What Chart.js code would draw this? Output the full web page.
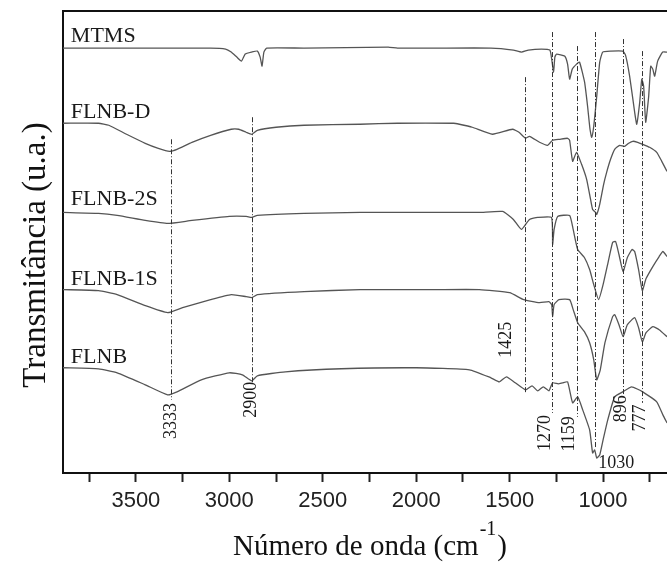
<!DOCTYPE html>
<html>
<head>
<meta charset="utf-8">
<script src="https://cdn.jsdelivr.net/npm/chart.js@4.4.1/dist/chart.umd.min.js"></script>
<style>
  html, body { margin: 0; padding: 0; background: #fff; }
  #wrap { width: 667px; height: 562px; position: relative; }
</style>
</head>
<body>
<div id="wrap"><canvas id="ftir"></canvas></div>
<script>
// Espectros FTIR - transmitancia (u.a.), curvas deslocadas verticalmente
const seriesNames = ['MTMS', 'FLNB-D', 'FLNB-2S', 'FLNB-1S', 'FLNB'];

const mtmsWn = [3890, 3500, 3100, 3020, 2990, 2960, 2935, 2915, 2880, 2850, 2835, 2825, 2815, 2800, 2600, 2150, 2100, 1900, 1600, 1480, 1437, 1400, 1330, 1285, 1275, 1265, 1258, 1249, 1206, 1190, 1179, 1165, 1142, 1126, 1099, 1083, 1070, 1061, 1050, 1034, 1018, 1002, 960, 895, 880, 858, 831, 820, 804, 793, 783, 772, 756, 745, 734, 724, 708, 681, 658];
const mtmsT = [42.4, 42.4, 42.4, 42.3, 42.0, 41.5, 41.1, 41.8, 42.0, 42.1, 41.5, 40.6, 42.0, 42.4, 42.4, 42.5, 42.4, 42.4, 42.4, 42.2, 42.0, 42.2, 42.3, 42.2, 41.3, 40.0, 41.5, 41.8, 41.6, 40.8, 39.3, 40.3, 40.8, 41.0, 39.0, 36.6, 34.3, 33.5, 34.6, 37.6, 41.0, 42.0, 42.1, 42.1, 41.7, 39.6, 36.0, 34.8, 37.0, 39.3, 38.6, 35.0, 37.6, 40.6, 40.3, 39.6, 41.1, 42.0, 42.0];

const flnbDWn = [3890, 3700, 3645, 3550, 3450, 3380, 3320, 3280, 3200, 3100, 2990, 2950, 2910, 2880, 2850, 2750, 2600, 2300, 2100, 1800, 1769, 1700, 1592, 1485, 1450, 1415, 1394, 1340, 1297, 1270, 1233, 1190, 1179, 1163, 1142, 1115, 1088, 1067, 1056, 1040, 1034, 1018, 997, 981, 960, 938, 911, 884, 863, 841, 815, 788, 751, 713, 686, 658];
const flnbDT = [34.9, 34.9, 34.7, 33.8, 32.9, 32.4, 32.1, 32.3, 33.0, 33.7, 34.3, 34.3, 34.0, 33.8, 34.2, 34.5, 34.7, 34.8, 34.9, 34.9, 34.8, 34.5, 33.8, 34.3, 34.0, 33.4, 33.6, 33.0, 32.7, 33.2, 33.3, 33.4, 33.2, 31.1, 32.0, 30.8, 29.3, 27.3, 26.3, 26.0, 25.8, 26.8, 28.8, 30.0, 31.3, 32.3, 32.7, 32.6, 32.9, 33.1, 33.0, 32.8, 32.5, 32.0, 31.1, 30.1];

const flnb2sWn = [3890, 3700, 3600, 3450, 3330, 3200, 3000, 2910, 2880, 2850, 2600, 2300, 1900, 1662, 1538, 1480, 1437, 1394, 1350, 1276, 1270, 1262, 1243, 1179, 1160, 1136, 1100, 1072, 1050, 1024, 1000, 970, 949, 933, 915, 893, 870, 845, 831, 810, 790, 770, 734, 700, 680, 658];
const flnb2sT = [26.0, 25.9, 25.7, 25.2, 24.9, 25.2, 25.6, 25.6, 25.5, 25.7, 25.9, 26.0, 26.0, 26.0, 26.1, 25.3, 24.3, 25.3, 25.5, 25.5, 22.8, 24.3, 25.6, 25.7, 24.3, 22.3, 21.5, 20.3, 18.8, 17.3, 18.8, 21.3, 23.0, 23.1, 21.8, 20.1, 21.5, 22.3, 22.1, 20.3, 18.2, 19.4, 20.6, 21.6, 22.1, 21.6];

const flnb1sWn = [3890, 3700, 3600, 3450, 3330, 3250, 3100, 2990, 2910, 2880, 2850, 2600, 2300, 1900, 1662, 1500, 1425, 1340, 1290, 1275, 1270, 1262, 1236, 1179, 1160, 1136, 1100, 1072, 1050, 1034, 1015, 990, 949, 938, 915, 893, 870, 831, 810, 790, 770, 734, 700, 658];
const flnb1sT = [18.3, 18.2, 17.8, 16.7, 16.0, 16.5, 17.3, 17.8, 17.6, 17.5, 17.8, 18.1, 18.3, 18.3, 18.3, 18.0, 17.3, 17.0, 17.1, 16.8, 15.6, 16.8, 17.3, 17.3, 16.3, 15.0, 14.1, 13.0, 11.3, 9.3, 10.3, 13.0, 15.6, 15.8, 14.8, 13.6, 14.8, 15.5, 14.5, 13.1, 14.0, 14.6, 14.3, 13.6];

const flnbWn = [3890, 3700, 3600, 3450, 3330, 3280, 3150, 3000, 2930, 2880, 2850, 2700, 2400, 2000, 1715, 1600, 1555, 1517, 1470, 1415, 1380, 1350, 1320, 1290, 1270, 1240, 1217, 1190, 1163, 1136, 1109, 1072, 1056, 1045, 1034, 1018, 1000, 975, 938, 895, 847, 788, 713, 680, 658];
const flnbT = [10.5, 10.4, 10.0, 8.8, 7.8, 8.1, 9.3, 10.0, 9.8, 9.2, 9.7, 10.1, 10.4, 10.5, 10.3, 9.5, 9.1, 9.6, 9.0, 8.3, 8.7, 8.2, 8.6, 8.2, 9.0, 8.9, 9.0, 9.1, 7.0, 7.6, 6.3, 4.3, 2.0, 2.3, 1.5, 1.8, 3.3, 5.3, 7.6, 8.1, 8.6, 8.1, 7.1, 5.8, 5.0];

// ticks do eixo x (so os multiplos de 500 levam rotulo)
const xTicks = [3750, 3500, 3250, 3000, 2750, 2500, 2250, 2000, 1750, 1500, 1250, 1000, 750];

// bandas marcadas
const peakLabels = ['3333', '2900', '1425', '1270', '1159', '1030', '896', '777'];
const peakWn = [3313, 2880, 1420, 1272, 1140, 1043, 893, 790];
const peakTop = [33.3, 35.5, 39.5, 44.0, 42.6, 44.0, 43.3, 42.1];
const peakBottom = [7.3, 9.0, 8.0, 6.0, 5.6, 2.5, 7.8, 7.0];

// posicao dos rotulos (em unidades dos eixos)
const peakLabelPos = [
    { x: 3313, y: 5.2, rot: true },
    { x: 2880, y: 7.3, rot: true },
    { x: 1519, y: 13.3, rot: true },
    { x: 1311, y: 4.0, rot: true },
    { x: 1182, y: 3.9, rot: true },
    { x: 930, y: 1.0, rot: false },
    { x: 904, y: 6.4, rot: true },
    { x: 802, y: 5.5, rot: true }
];
const nameWn = 3848;
const nameY = [43.0, 35.4, 26.7, 18.8, 11.0];

const seriesData = [
    [mtmsWn, mtmsT],
    [flnbDWn, flnbDT],
    [flnb2sWn, flnb2sT],
    [flnb1sWn, flnb1sT],
    [flnbWn, flnbT]
];

const serif = "'Liberation Serif', 'Times New Roman', serif";

const annotations = {
    id: 'annotations',
    afterDatasetsDraw(chart) {
        const { ctx, chartArea, scales: { x, y } } = chart;
        ctx.save();

        // linhas traco-ponto das bandas
        ctx.strokeStyle = '#333';
        ctx.lineWidth = 1;
        ctx.setLineDash([5, 2, 1, 2]);
        peakWn.forEach((w, i) => {
            const px = Math.round(x.getPixelForValue(w)) + 0.5;
            ctx.beginPath();
            ctx.moveTo(px, y.getPixelForValue(peakTop[i]));
            ctx.lineTo(px, y.getPixelForValue(peakBottom[i]));
            ctx.stroke();
        });
        ctx.setLineDash([]);

        // rotulos das bandas
        ctx.fillStyle = '#1a1a1a';
        ctx.font = `18px ${serif}`;
        ctx.textAlign = 'center';
        ctx.textBaseline = 'middle';
        peakLabelPos.forEach((p, i) => {
            const px = x.getPixelForValue(p.x);
            const py = y.getPixelForValue(p.y);
            ctx.save();
            ctx.translate(px, py);
            if (p.rot) ctx.rotate(-Math.PI / 2);
            ctx.fillText(peakLabels[i], 0, 0);
            ctx.restore();
        });

        // nomes das amostras
        ctx.font = `22px ${serif}`;
        ctx.textAlign = 'left';
        ctx.textBaseline = 'alphabetic';
        seriesNames.forEach((n, i) => {
            ctx.fillText(n, x.getPixelForValue(nameWn), y.getPixelForValue(nameY[i]));
        });

        // borda superior
        ctx.strokeStyle = '#111';
        ctx.lineWidth = 2;
        ctx.beginPath();
        ctx.moveTo(chartArea.left, chartArea.top);
        ctx.lineTo(chartArea.right, chartArea.top);
        ctx.stroke();
        ctx.restore();
    },
    afterDraw(chart) {
        const { ctx } = chart;
        ctx.save();
        ctx.fillStyle = '#111';
        ctx.textBaseline = 'alphabetic';

        // titulo eixo x com sobrescrito
        const main = 'Número de onda (cm';
        const sup = '-1';
        const close = ')';
        ctx.font = `29px ${serif}`;
        const wMain = ctx.measureText(main).width;
        const wClose = ctx.measureText(close).width;
        ctx.font = `20px ${serif}`;
        const wSup = ctx.measureText(sup).width;
        const total = wMain + wSup + wClose + 2;
        const sx = 370 - total / 2;
        ctx.textAlign = 'left';
        ctx.font = `29px ${serif}`;
        ctx.fillText(main, sx, 555);
        ctx.font = `20px ${serif}`;
        ctx.fillText(sup, sx + wMain + 1, 535);
        ctx.font = `29px ${serif}`;
        ctx.fillText(close, sx + wMain + wSup + 2, 555);

        // titulo eixo y
        ctx.translate(36, 255);
        ctx.rotate(-Math.PI / 2);
        ctx.textAlign = 'center';
        ctx.textBaseline = 'middle';
        ctx.font = `33px ${serif}`;
        ctx.fillText('Transmitância (u.a.)', 0, 0);
        ctx.restore();
    }
};

new Chart(document.getElementById('ftir'), {
    type: 'line',
    data: {
        datasets: seriesData.map(([wn, t], i) => ({
            label: seriesNames[i],
            data: wn.map((w, k) => ({ x: w, y: t[k] })),
            borderColor: '#555',
            borderWidth: 1.3,
            pointRadius: 0,
            tension: 0.15,
            fill: false
        }))
    },
    options: {
        responsive: true,
        maintainAspectRatio: false,
        animation: false,
        layout: { padding: { top: 11, right: 0, left: 0, bottom: 0 } },
        plugins: { legend: { display: false }, tooltip: { enabled: false } },
        scales: {
            x: {
                type: 'linear',
                reverse: true,
                min: 658,
                max: 3890,
                afterFit: s => { s.height = 89; },
                afterBuildTicks: s => { s.ticks = xTicks.map(v => ({ value: v })); },
                ticks: {
                    autoSkip: false,
                    maxRotation: 0,
                    padding: 6,
                    color: '#222',
                    font: { family: "'Liberation Sans', Arial, sans-serif", size: 22 },
                    callback: v => (v % 500 === 0 ? String(v) : '')
                },
                grid: { display: true, drawOnChartArea: false, drawTicks: true, tickLength: 9, tickColor: '#222', tickWidth: 2 },
                border: { display: true, color: '#111', width: 2 }
            },
            y: {
                min: 0,
                max: 46.1,
                afterFit: s => { s.width = 63; },
                ticks: { display: false },
                grid: { display: true, drawOnChartArea: false, drawTicks: false },
                border: { display: true, color: '#111', width: 2 }
            }
        }
    },
    plugins: [annotations]
});
</script>
</body>
</html>
